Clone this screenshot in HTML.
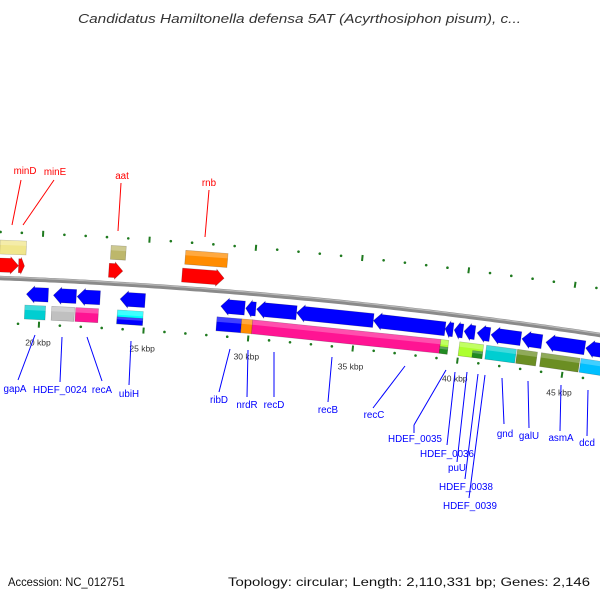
<!DOCTYPE html>
<html><head><meta charset="utf-8">
<style>
html,body{margin:0;padding:0;background:#fff;}
svg{display:block;font-family:"Liberation Sans","DejaVu Sans",sans-serif;}
</style></head>
<body>
<svg id="map" width="600" height="600" viewBox="0 0 600 600">
<text x="78" y="23" font-size="13" font-style="italic" fill="#333" textLength="443" lengthAdjust="spacingAndGlyphs">Candidatus Hamiltonella defensa 5AT (Acyrthosiphon pisum), c...</text>
<text x="8" y="586" font-size="12" fill="#111" textLength="117" lengthAdjust="spacingAndGlyphs">Accession: NC_012751</text>
<text x="228" y="586" font-size="12" fill="#111" textLength="362" lengthAdjust="spacingAndGlyphs">Topology: circular; Length: 2,110,331 bp; Genes: 2,146</text>
<g id="layer"></g>
</svg>
<script>
// ---- data (kbp) ----
const upperBoxStart = [18.0, 23.22, 26.73];
const upperBoxEnd   = [19.24, 23.93, 28.72];
const upperBoxColor = ['#f0e68c', '#bdb76b', '#ff8c00'];
const upperArrowStart = [18.0, 18.91, 23.18, 26.64];
const upperArrowEnd   = [18.91, 19.19, 23.84, 28.63];
const lowerArrowStart = [19.34, 20.62, 21.75, 23.79, 28.58, 29.76, 30.28, 32.18, 35.83, 39.24, 39.67, 40.14, 40.76, 41.42, 42.89, 44.03, 45.92];
const lowerArrowEnd   = [20.38, 21.71, 22.84, 24.98, 29.72, 30.24, 32.18, 35.83, 39.24, 39.62, 40.09, 40.66, 41.37, 42.84, 43.84, 45.88, 47.2];
const lowerBoxStart = [19.29, 20.57, 21.71, 23.70, 28.44, 29.62, 30.14, 39.10, 40.0, 41.28, 42.75, 43.89, 45.78];
const lowerBoxEnd   = [20.28, 21.66, 22.80, 24.93, 29.62, 30.14, 39.10, 39.48, 41.14, 42.70, 43.70, 45.73, 47.2];
const lowerBoxColor = ['#00ced1', '#c0c0c0', '#ff1493', '#00ffff', '#0000ff', '#ff8c00', '#ff1493', '#adff2f', '#adff2f', '#00ced1', '#6b8e23', '#6b8e23', '#00bfff'];
const majorTicks = [20, 25, 30, 35, 40, 45];
const tickLabels = ['20 kbp', '25 kbp', '30 kbp', '35 kbp', '40 kbp', '45 kbp'];
const upperLabels = ['minD', 'minE', 'aat', 'rnb'];
const upperLabelPos = [[25,174,21,180,12,225],[55,175,54,180,23,225],[122,179,121,183,118,231],[209,186,209,190,205,237]];
const lowerLabels = ['gapA','HDEF_0024','recA','ubiH','ribD','nrdR','recD','recB','recC','HDEF_0035','HDEF_0036','puU','HDEF_0038','HDEF_0039','gnd','galU','asmA','dcd'];
const lowerLabelPos = [[15,392,35,335,18,380],[60,393,62,337,60,382],[102,393,87,337,102,381],[129,397,131,341,129,385],[219,403,230,349,219,392],[247,408,248,350,247,397],[274,408,274,352,274,397],[328,413,332,357,328,402],[374,418,405,366,373,408],[415,442,446,370,414,425],[447,457,455,372,447,445],[457,471,467,372,457,462],[466,490,478,374,465,479],[470,509,485,375,469,498],[505,437,502,378,504,424],[529,439,528,381,529,428],[561,441,561,385,560,431],[587,446,588,390,587,436]];

// ---- axes ----
const X = k => 41 + (k - 20) * 21.1;
const Yb = x => 278 + 0.0383 * x + 9.44e-5 * x * x;
const dY = x => 0.0383 + 2 * 9.44e-5 * x;
function P(k, off){ const x = X(k), s = dY(x), n = Math.sqrt(1 + s*s); return [x - s*off/n, Yb(x) + off/n]; }
const NS = 'http://www.w3.org/2000/svg';
const layer = document.getElementById('layer');
function mk(tag, attrs){ const e = document.createElementNS(NS, tag); for (const a in attrs) e.setAttribute(a, attrs[a]); layer.appendChild(e); return e; }
function poly(pts){ return pts.map(p => p[0].toFixed(1)+','+p[1].toFixed(1)).join(' '); }

// backbone
let d = '';
for (let x = -5; x <= 605; x += 5) d += (x === -5 ? 'M' : 'L') + x + ',' + Yb(x).toFixed(1);
let bb = mk('path', {d: d, stroke: '#8a8a8a', 'stroke-width': 4.5, fill: 'none'});


let bb2 = mk('path', {d: d, stroke: '#b8b8b8', 'stroke-width': 1.2, fill: 'none', transform: 'translate(0,-1.2)'});



// ticks
for (let k = 18; k <= 47; k++) {
  for (const off of [-46, 45]) {
    const major = k % 5 === 0;
    if (major) {
      const a = P(k, off - 3), b = P(k, off + 3);
      const t = mk('line', {x1: a[0], y1: a[1], x2: b[0], y2: b[1], stroke: '#1f7a1f', 'stroke-width': 2});
      
      
    } else {
      const c = P(k, off);
      const t = mk('circle', {cx: c[0], cy: c[1], r: 1.3, fill: '#1f7a1f'});
      
      
    }
  }
}
majorTicks.forEach((k, i) => {
  const p = P(k, 66);
  const t = mk('text', {x: p[0], y: p[1], 'font-size': 8.5, 'text-anchor': 'middle', fill: '#333'});
  t.textContent = tickLabels[i];
  
  
});

function box(k1, k2, o1, o2, color, name){
  const g = mk('polygon', {points: poly([P(k1,o1),P(k2,o1),P(k2,o2),P(k1,o2)]), fill: color, stroke: 'rgba(0,0,0,0.25)', 'stroke-width': 0.6});
  
  
  const h = mk('polygon', {points: poly([P(k1,o1),P(k2,o1),P(k2,o1+(o2-o1)*0.35),P(k1,o1+(o2-o1)*0.35)]), fill: 'rgba(255,255,255,0.25)'});
  
  
}
function arrow(k1, k2, o1, o2, color, dir, name){
  const head = Math.min(8 / 21.1, (k2 - k1) * 0.6);
  const om = (o1 + o2) / 2, w = 1.5;
  let pts;
  if (dir > 0) pts = [P(k1,o1),P(k2-head,o1),P(k2-head,o1-w),P(k2,om),P(k2-head,o2+w),P(k2-head,o2),P(k1,o2)];
  else pts = [P(k2,o1),P(k1+head,o1),P(k1+head,o1-w),P(k1,om),P(k1+head,o2+w),P(k1+head,o2),P(k2,o2)];
  const g = mk('polygon', {points: poly(pts), fill: color, stroke: 'rgba(0,0,0,0.25)', 'stroke-width': 0.6});
  
  
}

upperBoxStart.forEach((s, i) => box(s, upperBoxEnd[i], -38, -24, upperBoxColor[i], 'upper-feature-box'));
upperArrowStart.forEach((s, i) => arrow(s, upperArrowEnd[i], -20, -6, '#ff0000', 1, 'forward-gene-arrow'));
lowerArrowStart.forEach((s, i) => arrow(s, lowerArrowEnd[i], 8, 22, '#0000ff', -1, 'reverse-gene-arrow'));
lowerBoxStart.forEach((s, i) => {
  box(s, lowerBoxEnd[i], 26, 40, lowerBoxColor[i], 'lower-feature-box');
  if (i === 3) box(s, lowerBoxEnd[i], 33, 40, '#0000ff', 'lower-feature-box-split');
  if (i === 7) box(s, lowerBoxEnd[i], 33, 40, '#228b22', 'lower-feature-box-split');
  if (i === 8) box(40.66, lowerBoxEnd[i], 33, 40, '#228b22', 'lower-feature-box-split');
});

function labels(names, pos, color, kind){
  names.forEach((n, i) => {
    const p = pos[i];
    const l = mk('line', {x1: p[2], y1: p[3], x2: p[4], y2: p[5], stroke: color, 'stroke-width': 1});
    
    
    const t = mk('text', {x: p[0], y: p[1], 'font-size': 9.8, 'text-anchor': 'middle', fill: color});
    t.textContent = n;
    
    
  });
}
labels(upperLabels, upperLabelPos, '#ff0000', 'forward-gene');
labels(lowerLabels, lowerLabelPos, '#0000ff', 'reverse-gene');
const v = mk('line', {x1: 414, y1: 425, x2: 414, y2: 433, stroke: '#0000ff', 'stroke-width': 1});


</script>
</body></html>
